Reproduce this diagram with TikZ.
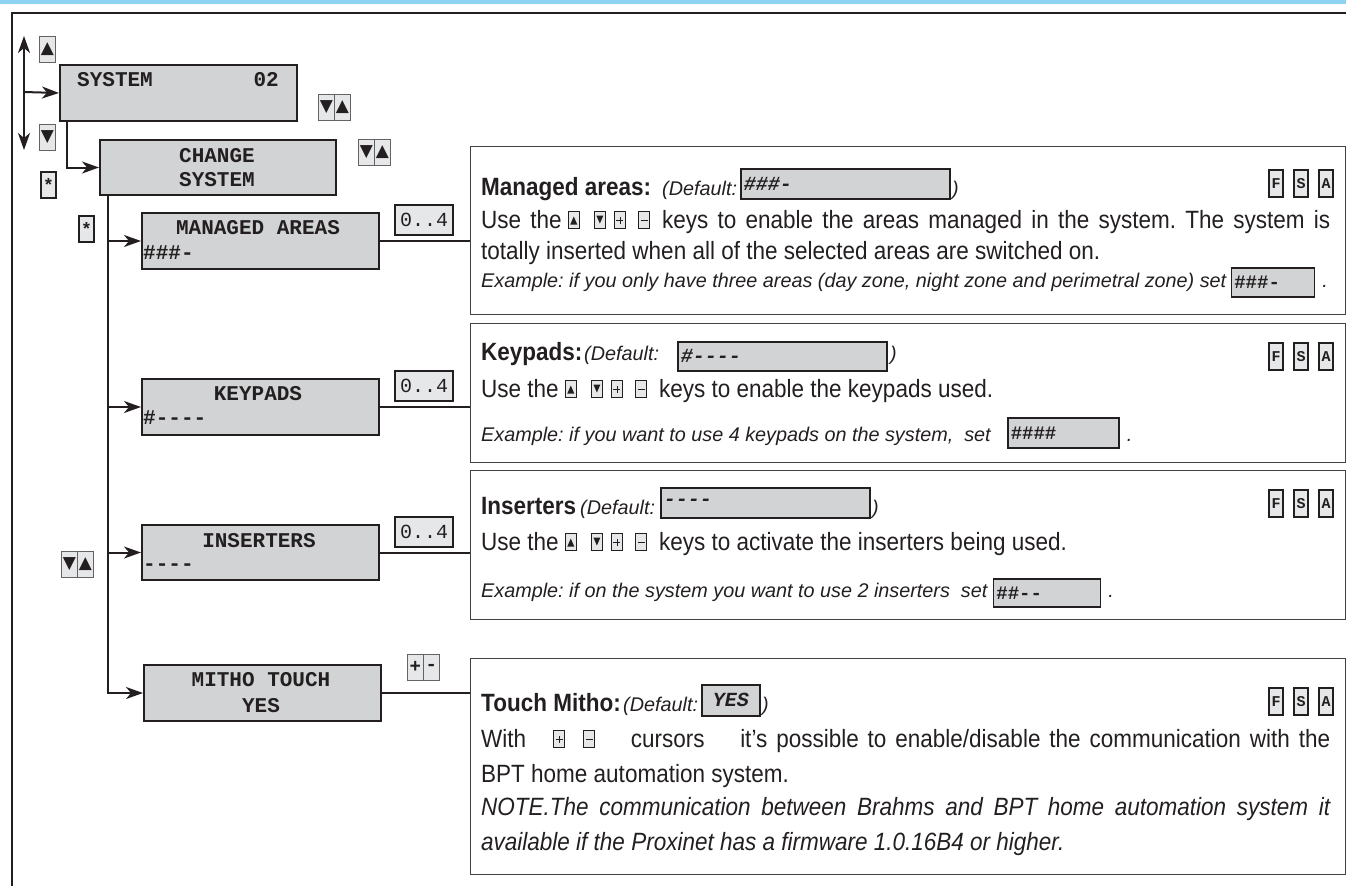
\documentclass[tikz,border=0pt]{standalone}
\usepackage{fontspec}
\setmainfont{Liberation Sans}
\newfontfamily\bodyf[FakeStretch=0.9]{Liberation Sans}
\newfontfamily\monof{Liberation Mono}
\newfontfamily\symf{DejaVu Sans}
\usetikzlibrary{arrows.meta}
\definecolor{dk}{HTML}{231F20}
\definecolor{lcd}{HTML}{D1D3D4}
\definecolor{keyg}{HTML}{E6E7E8}
\definecolor{topblue}{HTML}{8ED1F1}
\newcommand{\bodysz}{\fontsize{25}{30}\selectfont}
\newcommand{\exsz}{\fontsize{19.8}{23}\selectfont}
\newcommand{\ikb}[1]{\tikz[baseline=0pt,x=1pt,y=1pt]{\draw[draw=dk,line width=1.1pt,fill=keyg] (0,-0.5) rectangle (11,16.5); #1}}
\newcommand{\ikup}{\ikb{\fill[dk] (2,3.5) -- (9,3.5) -- (5.5,11.5) -- cycle;}}
\newcommand{\ikdn}{\ikb{\fill[dk] (2,12.5) -- (9,12.5) -- (5.5,4.5) -- cycle;}}
\newcommand{\ikpl}{\ikb{\draw[dk,line width=0.9pt] (2,8) -- (9,8) (5.5,4.5) -- (5.5,11.5);}}
\newcommand{\ikmi}{\ikb{\draw[dk,line width=0.9pt] (2,8) -- (9,8);}}
\newcommand{\iks}{\ikup\hspace{14pt}\ikdn\hspace{8pt}\ikpl\hspace{12pt}\ikmi\hspace{12pt}}
\begin{document}
\frenchspacing
\begin{tikzpicture}[x=1pt,y=-1pt,
  lcdbox/.style={draw=dk, line width=2pt, fill=lcd, inner sep=0pt, anchor=north west},
  mono/.style={font=\monof\bfseries\fontsize{21}{24}\selectfont, inner sep=0pt, text=dk},
  zbox/.style={draw=dk, line width=2pt, fill=keyg, inner sep=0pt, anchor=north west, minimum width=58pt, minimum height=30pt, font=\monof\fontsize{20}{22}\selectfont, text=dk},
  keyb/.style={draw=dk!70, line width=0.8pt, fill=keyg, inner sep=0pt, anchor=north west, minimum width=16pt, minimum height=26pt, text=dk, font=\symf\fontsize{17}{17}\selectfont},
  starkey/.style={keyb, draw=dk, line width=2pt, minimum width=15pt, font=\monof\bfseries\fontsize{18}{18}\selectfont},
  fsa/.style={draw=dk, line width=2pt, fill=keyg, inner sep=0pt, anchor=north west, minimum width=14pt, minimum height=27pt, font=\monof\bfseries\fontsize{15}{15}\selectfont, text=dk},
  panel/.style={draw=dk!85, line width=1.3pt, inner sep=0pt, anchor=north west},
  conn/.style={draw=dk, line width=2pt},
  arr/.style={conn, -{Stealth[length=17pt, width=12pt, inset=5pt]}},
  txt/.style={font=\bodyf\bodysz, anchor=base west, inner sep=0pt, text=dk},
  ex/.style={font=\itshape\exsz, anchor=base west, inner sep=0pt, text=dk},
  defbox/.style={draw=dk, line width=1.6pt, fill=lcd, inner ysep=0pt, inner xsep=3pt, anchor=north west, align=left, text=dk},
  defmono/.style={defbox, font=\monof\bfseries\itshape\fontsize{20}{22}\selectfont},
  exbox/.style={defbox, font=\monof\bfseries\fontsize{19}{22}\selectfont}
]
\useasboundingbox (0,0) rectangle (1346,886);
% frame
\fill[topblue] (0,0) rectangle (1346,3.5);
\draw[dk, line width=2.3pt] (12,886) -- (12,13) -- (1346,13);

% LCD boxes
\node[lcdbox, minimum width=237pt, minimum height=56pt] (sys) at (59,64) {};
\node[mono, anchor=base west] (systxt) at (77,86) {SYSTEM};
\node[mono, anchor=base east] (sysnum) at (279,86) {02};

\node[lcdbox, minimum width=236pt, minimum height=55pt] (chg) at (99,139) {};
\node[mono, anchor=base] (chg1) at (217,162) {CHANGE};
\node[mono, anchor=base] (chg2) at (217,186) {SYSTEM};

\node[lcdbox, minimum width=237pt, minimum height=56pt] (man) at (141,212) {};
\node[mono, anchor=base] (man1) at (258,234) {MANAGED AREAS};
\node[mono, anchor=base west] (man2) at (143,259) {\#\#\#-};

\node[lcdbox, minimum width=237pt, minimum height=56pt] (kpd) at (141,378) {};
\node[mono, anchor=base] (kpd1) at (258,400) {KEYPADS};
\node[mono, anchor=base west] (kpd2) at (143,424) {\#----};

\node[lcdbox, minimum width=237pt, minimum height=55pt] (ins) at (141,524) {};
\node[mono, anchor=base] (ins1) at (259,547) {INSERTERS};
\node[mono, anchor=base west] (ins2) at (143,570) {----};

\node[lcdbox, minimum width=237pt, minimum height=56pt] (mit) at (143,664) {};
\node[mono, anchor=base] (mit1) at (261,686) {MITHO TOUCH};
\node[mono, anchor=base] (mit2) at (261,712) {YES};

% 0..4 boxes
\node[zbox] (z1) at (394,204) {0..4};
\node[zbox] (z2) at (394,370) {0..4};
\node[zbox] (z3) at (394,516) {0..4};

% keys
\node[keyb] (kup) at (39,36) {▲};
\node[keyb] (kdn) at (39,124) {▼};
\node[starkey] (ks1) at (40,171) {*};
\node[starkey] (ks2) at (78,215) {*};
\node[keyb] (pa1) at (318,94) {▼};
\node[keyb] (pa2) at (334,94) {▲};
\node[keyb] (pb1) at (358,139) {▼};
\node[keyb] (pb2) at (374,139) {▲};
\node[keyb] (pc1) at (61,551) {▼};
\node[keyb] (pc2) at (77,551) {▲};
\node[keyb, font=\monof\bfseries\fontsize{19}{19}\selectfont] (pd1) at (407,654) {+};
\node[keyb, font=\monof\bfseries\fontsize{19}{19}\selectfont] (pd2) at (423,654) {-};

% connectors
\coordinate (vt) at (24,36);
\coordinate (vb) at (24,150);
\coordinate (vm) at (24,92);
\draw[conn, {Stealth[length=17pt, width=12pt, inset=5pt]}-{Stealth[length=17pt, width=12pt, inset=5pt]}] (vt) -- (vb);
\draw[arr] (vm) -- (sys.west);
\coordinate (s1) at (67,120);
\draw[arr] (s1) |- (chg.west);
\coordinate (t0) at (108,194);
\draw[arr] (t0) |- (mit.west);
\draw[arr] (man.west -| t0) -- (man.west);
\draw[arr] (kpd.west -| t0) -- (kpd.west);
\draw[arr] (ins.west -| t0) -- (ins.west);

% panels
\node[panel, minimum width=875pt, minimum height=168pt] (p1) at (470,146) {};
\node[panel, minimum width=875pt, minimum height=139pt] (p2) at (470,323) {};
\node[panel, minimum width=875pt, minimum height=149pt] (p3) at (470,470) {};
\node[panel, minimum width=875pt, minimum height=216pt] (p4) at (470,658) {};

\draw[conn] (man.east) -- (man.east -| p1.west);
\draw[conn] (kpd.east) -- (kpd.east -| p2.west);
\draw[conn] (ins.east) -- (ins.east -| p3.west);
\draw[conn] (mit.east) -- (mit.east -| p4.west);

% FSA keys
\foreach \n/\y in {1/169, 2/342, 3/489, 4/687} {
  \node[fsa] (f\n) at (1268,\y) {F};
  \node[fsa] (s\n) at (1293,\y) {S};
  \node[fsa] (a\n) at (1318,\y) {A};
}

% panel 1
\node[txt] (p1h) at (481,195) {\bfseries Managed areas:};
\node[ex] (p1d) at (662,195) {(Default:};
\node[defmono, minimum height=30pt, text width=203pt] (p1b) at (740,168) {\#\#\#-};
\node[ex] (p1c) at (952,195) {)};
\node[txt] (p1l2) at (481,228) {\makebox[849pt][s]{Use the\hspace{6pt}\iks keys to enable the areas managed in the system. The system is}};
\node[txt] (p1l3) at (481,259) {totally inserted when all of the selected areas are switched on.};
\node[ex] (p1l4) at (481,287) {Example: if you only have three areas (day zone, night zone and perimetral zone) set};
\coordinate (e1) at ([xshift=4pt]p1l4.base east);
\node[exbox, minimum height=29pt, text width=77pt] (p1e) at (e1 |- 0,267) {\#\#\#-};
\coordinate (d1) at ([xshift=7pt]p1e.east);
\node[ex] (p1dot) at (d1 |- p1l4.base) {.};

% panel 2
\node[txt] (p2h) at (481,360) {\bfseries Keypads:};
\node[ex] (p2d) at (584,360) {(Default:};
\node[defmono, minimum height=29pt, text width=203pt] (p2b) at (677,341) {\#----};
\node[ex] (p2c) at (890,360) {)};
\node[txt] (p2l2) at (481,397) {Use the\hspace{6pt}\iks keys to enable the keypads used.};
\node[ex] (p2l3) at (481,441) {Example: if you want to use 4 keypads on the system,\ \ set};
\coordinate (e2) at ([xshift=16pt]p2l3.base east);
\node[exbox, minimum height=30pt, text width=105pt] (p2e) at (e2 |- 0,417) {\#\#\#\#};
\coordinate (d2) at ([xshift=7pt]p2e.east);
\node[ex] (p2dot) at (d2 |- p2l3.base) {.};

% panel 3
\node[txt] (p3h) at (481,514) {\bfseries Inserters};
\node[ex] (p3d) at (580,514) {(Default:};
\node[defmono, minimum height=30pt, text width=203pt] (p3b) at (660,487) {----};
\node[ex] (p3c) at (872,514) {)};
\node[txt] (p3l2) at (481,550) {Use the\hspace{6pt}\iks keys to activate the inserters being used.};
\node[ex] (p3l3) at (481,597) {Example: if on the system you want to use 2 inserters\ \ set};
\coordinate (e3) at ([xshift=5pt]p3l3.base east);
\node[exbox, minimum height=28pt, text width=101pt] (p3e) at (e3 |- 0,578) {\#\#--};
\coordinate (d3) at ([xshift=7pt]p3e.east);
\node[ex] (p3dot) at (d3 |- p3l3.base) {.};

% panel 4
\node[txt] (p4h) at (481,711) {\bfseries Touch Mitho:};
\node[ex] (p4d) at (623,711) {(Default:};
\node[defmono, minimum height=31pt, minimum width=58pt, align=center, inner xsep=0pt] (p4b) at (701,684) {YES};
\node[ex] (p4c) at (762,711) {)};
\node[txt] (p4l2) at (481,747) {\makebox[849pt][s]{With\ \ \ \ikpl\ \ \ikmi\ \ \ \ cursors\ \ \ \ it’s possible to enable/disable the communication with the}};
\node[txt] (p4l3) at (481,782) {BPT home automation system.};
\node[txt, font=\bodyf\itshape\bodysz] (p4l4) at (481,815) {\makebox[849pt][s]{NOTE.The communication between Brahms and BPT home automation system it}};
\node[txt, font=\bodyf\itshape\bodysz] (p4l5) at (481,850) {available if the Proxinet has a firmware 1.0.16B4 or higher.};
\end{tikzpicture}
\end{document}
